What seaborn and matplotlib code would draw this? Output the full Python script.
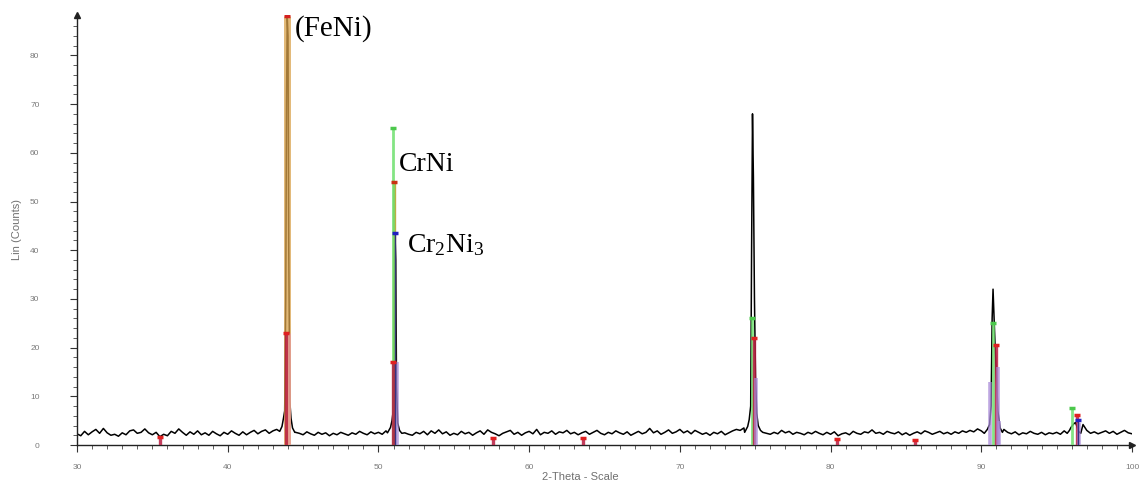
import numpy as np
import pandas as pd
import matplotlib
matplotlib.use("Agg")
import matplotlib.pyplot as plt
import seaborn as sns

# ---------------- data ----------------
two_theta_start = 30.0
two_theta_step = 0.25
baseline_counts = [
    2.3, 1.9, 2.8, 2.1, 2.7, 3.2, 2.4, 3.4, 2.5, 2.0, 2.2, 1.8, 2.5, 2.1, 2.9, 3.1, 2.4, 2.6, 3.3, 2.5,
    2.1, 2.6, 1.7, 2.2, 1.9, 2.8, 2.4, 3.3, 2.6, 2.0, 2.7, 2.2, 2.9, 2.1, 2.5, 2.0, 2.8, 2.3, 1.9, 2.6,
    2.2, 2.9, 2.4, 2.0, 2.7, 2.1, 2.6, 3.0, 2.3, 2.8, 3.1, 2.4, 2.9, 3.2, 3.0, 3.5, 4.0, 3.2, 2.6, 2.4,
    2.1, 2.7, 2.3, 2.0, 2.6, 2.2, 2.5, 1.9, 2.4, 2.1, 2.6, 2.3, 2.0, 2.5, 2.2, 2.8, 2.4, 2.1, 2.7, 2.3,
    2.6, 2.2, 2.9, 3.2, 3.0, 4.0, 3.0, 2.5, 2.2, 2.0, 2.6, 2.3, 2.8, 2.1, 2.9, 2.4, 3.1, 2.3, 2.7, 2.0,
    2.4, 2.1, 2.8, 2.3, 2.6, 2.0, 2.5, 2.9, 2.2, 3.1, 2.6, 2.3, 1.9, 2.4, 2.7, 3.0, 2.2, 2.6, 2.0, 2.5,
    2.8, 2.3, 3.2, 2.1, 2.6, 2.4, 2.9, 2.2, 2.7, 2.5, 3.0, 2.3, 2.6, 2.1, 2.5, 2.8, 2.2, 2.6, 3.0, 2.4,
    2.1, 2.6, 2.3, 2.9, 2.5, 2.2, 2.7, 2.0, 2.4, 2.8, 2.3, 2.6, 3.4, 2.5, 2.9, 2.2, 2.6, 3.1, 2.4, 2.7,
    3.2, 2.5, 2.9, 2.3, 3.0, 2.6, 2.2, 2.5, 2.0, 2.6, 2.3, 2.8, 2.1, 2.5, 2.9, 3.2, 3.0, 3.5, 4.0, 5.0,
    4.0, 3.2, 2.6, 2.4, 2.2, 2.6, 2.3, 3.0, 2.5, 2.8, 2.2, 2.6, 2.4, 2.1, 2.6, 2.3, 2.8, 2.4, 2.1, 2.6,
    2.2, 2.7, 1.9, 2.3, 2.5, 2.1, 2.8, 2.4, 2.2, 2.7, 2.5, 3.1, 2.4, 2.6, 2.2, 2.8, 2.5, 2.3, 2.7, 2.1,
    2.5, 2.0, 2.4, 2.7, 2.3, 2.9, 2.6, 2.2, 2.5, 2.8, 2.3, 2.6, 2.2, 2.7, 2.4, 2.9, 2.6, 3.0, 2.7, 3.3,
    2.9, 3.1, 3.4, 4.0, 3.0, 2.8, 3.2, 2.6, 2.3, 2.7, 2.1, 2.5, 2.3, 2.8, 2.4, 2.2, 2.6, 2.1, 2.5, 2.3,
    2.6, 2.2, 2.9, 2.5, 2.8, 3.0, 3.8, 4.2, 3.0, 2.4, 2.7, 2.3, 2.6, 2.9, 2.4, 2.8, 2.2, 2.6, 3.0, 2.5,
    2.3,
]

peak1_x = [43.45, 43.6, 43.7, 43.78, 43.85, 43.9, 43.95, 44.0, 44.05, 44.12, 44.2, 44.3, 44.45]
peak1_y = [2.8, 3.8, 5.5, 7.0, 30, 70, 88, 84, 40, 9, 5.5, 3.5, 2.6]
peak2_x = [50.6, 50.8, 50.9, 50.98, 51.05, 51.1, 51.15, 51.2, 51.28, 51.4, 51.55]
peak2_y = [2.5, 3.6, 5.0, 7.0, 25, 43, 38, 12, 4.5, 3.0, 2.4]
peak3_x = [74.3, 74.5, 74.6, 74.7, 74.76, 74.82, 74.88, 74.95, 75.02, 75.1, 75.2, 75.35, 75.5]
peak3_y = [2.6, 3.8, 5.2, 8.0, 40, 68, 55, 30, 14, 6.5, 4.0, 3.0, 2.6]
peak4_x = [90.2, 90.4, 90.55, 90.65, 90.72, 90.78, 90.85, 90.92, 91.0, 91.1, 91.25, 91.4]
peak4_y = [2.4, 3.2, 4.2, 8, 26, 32, 26, 20, 14, 7, 3.5, 2.6]
peak5_x = [95.7, 95.85, 95.95, 96.05, 96.15, 96.25, 96.35, 96.45, 96.6]
peak5_y = [2.4, 3.0, 3.6, 4.0, 4.4, 4.6, 3.8, 2.8, 2.4]

# reference sticks (phase markers)
feni_x = [43.95]
feni_h = [88]
crni_x = [50.99, 74.77, 90.80, 96.00]
crni_h = [65, 26, 25, 7.5]
olive_x = [51.04]
olive_h = [54]
cr2ni3_x = [51.13, 96.42]
cr2ni3_h = [43.5, 5.1]
red_x = [35.5, 43.87, 50.98, 57.6, 63.6, 74.95, 80.4, 85.6, 91.0, 96.38]
red_h = [1.6, 23, 17, 1.4, 1.4, 22, 1.2, 1.1, 20.5, 6.2]
purple_x = [51.22, 75.04, 90.55, 91.08, 91.2, 96.47]
purple_h = [17, 13.7, 13, 16, 5, 4.5]

x_ticks = [30, 40, 50, 60, 70, 80, 90, 100]
y_ticks = [0, 10, 20, 30, 40, 50, 60, 70, 80]

# ---------------- build pattern ----------------
base_x = two_theta_start + two_theta_step * np.arange(len(baseline_counts))
base = pd.DataFrame({"two_theta": base_x, "counts": baseline_counts})
peaks = [(peak1_x, peak1_y), (peak2_x, peak2_y), (peak3_x, peak3_y),
         (peak4_x, peak4_y), (peak5_x, peak5_y)]
keep = np.ones(len(base), dtype=bool)
for px, py in peaks:
    keep &= ~((base["two_theta"] >= min(px)) & (base["two_theta"] <= max(px)))
frames = [base[keep]] + [pd.DataFrame({"two_theta": px, "counts": py}) for px, py in peaks]
pattern = pd.concat(frames).sort_values("two_theta").reset_index(drop=True)

# ---------------- figure ----------------
sns.set_theme(style="white")
plt.rcParams["font.family"] = ["Liberation Sans", "DejaVu Sans"]
plt.rcParams["mathtext.fontset"] = "custom"
plt.rcParams["mathtext.rm"] = "Liberation Serif"
plt.rcParams["mathtext.it"] = "Liberation Serif"

fig = plt.figure(figsize=(11.39, 4.88), dpi=100)
ax = fig.add_axes([77 / 1139, 1 - 445 / 488, 1055 / 1139, 430 / 488])

sns.lineplot(data=pattern, x="two_theta", y="counts", color="black",
             linewidth=1.1, ax=ax, zorder=2, estimator=None)


def sticks(xs, hs, color, lw, alpha=0.85, cap=None, capsize=5, z=3):
    ax.vlines(xs, 0, hs, colors=color, linewidth=lw, alpha=alpha, zorder=z)
    if cap is not None:
        ax.plot(xs, hs, linestyle="none", marker="_", markersize=capsize,
                markeredgewidth=2.5, color=cap, zorder=z + 1)


sticks(feni_x, feni_h, "#d9a24a", 5.0, alpha=0.75, cap="#d42020")
sticks(olive_x, olive_h, "#b0a024", 2.4, alpha=0.85, cap="#c83010")
sticks(crni_x, crni_h, "#6fe06f", 2.0, alpha=0.85, cap="#4cc84c")
sticks(red_x, red_h, "#b81c40", 2.4, alpha=0.85, cap="#e02020", capsize=4)
sticks(purple_x, purple_h, "#a88ad8", 2.6, alpha=0.75)
sticks(cr2ni3_x, cr2ni3_h, "#2a2a80", 1.0, alpha=0.9, cap="#2020c0")
ax.vlines([44.08], 0, [23], colors="#e89a9a", linewidth=2.0, alpha=0.8, zorder=3)

# annotations
serif = ["Liberation Serif", "DejaVu Serif"]
ax.text(44.45, 85.5, "(FeNi)", fontsize=21, family=serif, va="center", ha="left", color="black")
ax.text(51.35, 57.5, "CrNi", fontsize=20, family=serif, va="center", ha="left", color="black")
ax.text(51.9, 41.0, r"Cr$_2$Ni$_3$", fontsize=20, family=serif, va="center", ha="left", color="black")

# axes styling
ax.set_xlim(30, 100)
ax.set_ylim(0, 88.3)
ax.set_xticks(x_ticks)
ax.set_yticks(y_ticks)
ax.set_xticks(np.arange(31, 100, 1), minor=True)
ax.set_yticks(np.arange(2, 88, 2), minor=True)
ax.tick_params(axis="both", which="major", length=5, width=0.8, color="#333333",
               labelsize=6, labelcolor="#7a7a7a", direction="out")
ax.tick_params(axis="both", which="minor", length=3, width=0.6, color="#444444", direction="out")
ax.tick_params(axis="y", which="major", pad=22)
ax.tick_params(axis="x", which="major", pad=9)
ax.xaxis.set_ticks_position("bottom")
ax.yaxis.set_ticks_position("left")
for side in ["top", "right"]:
    ax.spines[side].set_visible(False)
for side in ["left", "bottom"]:
    ax.spines[side].set_color("#222222")
    ax.spines[side].set_linewidth(1.0)
ax.plot([0], [1], marker="^", color="#222222", markersize=4, transform=ax.transAxes, clip_on=False)
ax.plot([1], [0], marker=">", color="#222222", markersize=4, transform=ax.transAxes, clip_on=False)

ax.set_xlabel("2-Theta - Scale", fontsize=8, color="#707070")
ax.set_ylabel("Lin (Counts)", fontsize=8, color="#707070")
ax.xaxis.set_label_coords(0.477, -0.062)
ax.yaxis.set_label_coords(-0.052, 0.5)

fig.savefig("out.png", dpi=100)
